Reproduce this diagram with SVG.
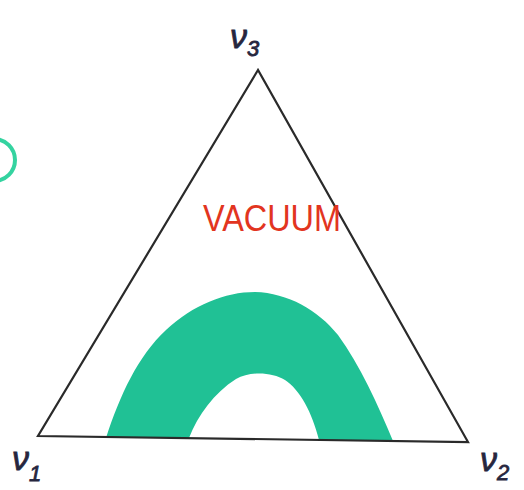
<svg xmlns="http://www.w3.org/2000/svg" width="524" height="490" viewBox="0 0 524 490">
<style>
.edge{fill:none;stroke:#2a2a2a;stroke-width:2.2;stroke-linejoin:miter}
.lbl{font-family:"Liberation Sans",sans-serif;fill:#26263e;font-style:italic;stroke:#26263e;stroke-width:0.8}
.sub{font-size:22px}
.vac{font-family:"Liberation Sans",sans-serif;fill:#e2351f;font-size:37px}
</style>
<rect width="524" height="490" fill="#ffffff"/>
<g id="region">
<path d="M106,438 C120,395 138,356 166,330 C193,305 225,292 255,292 C288,293 318,310 338,335 C360,365 378,405 393,441 L319,440 C312,412 300,390 285,380 C272,372 250,371 236,379 C214,393 198,415 189,438 Z" fill="#20c195"/>
</g>
<g id="circle">
<circle cx="-6" cy="160" r="21" fill="none" stroke="#34d3a0" stroke-width="4"/>
</g>
<g id="connectors">
<path class="edge" d="M258,70 L38,436 L468,442 Z"/>
</g>
<g id="v3"><text class="lbl" x="230" y="48" font-size="34">ν<tspan class="sub" dy="8">3</tspan></text></g>
<g id="v1"><text class="lbl" x="12" y="470" font-size="34">ν<tspan class="sub" dy="11">1</tspan></text></g>
<g id="v2"><text class="lbl" x="480" y="471" font-size="34">ν<tspan class="sub" dy="9">2</tspan></text></g>
<g id="vacuum"><text class="vac" x="203" y="231" textLength="138" lengthAdjust="spacingAndGlyphs">VACUUM</text></g>
</svg>
